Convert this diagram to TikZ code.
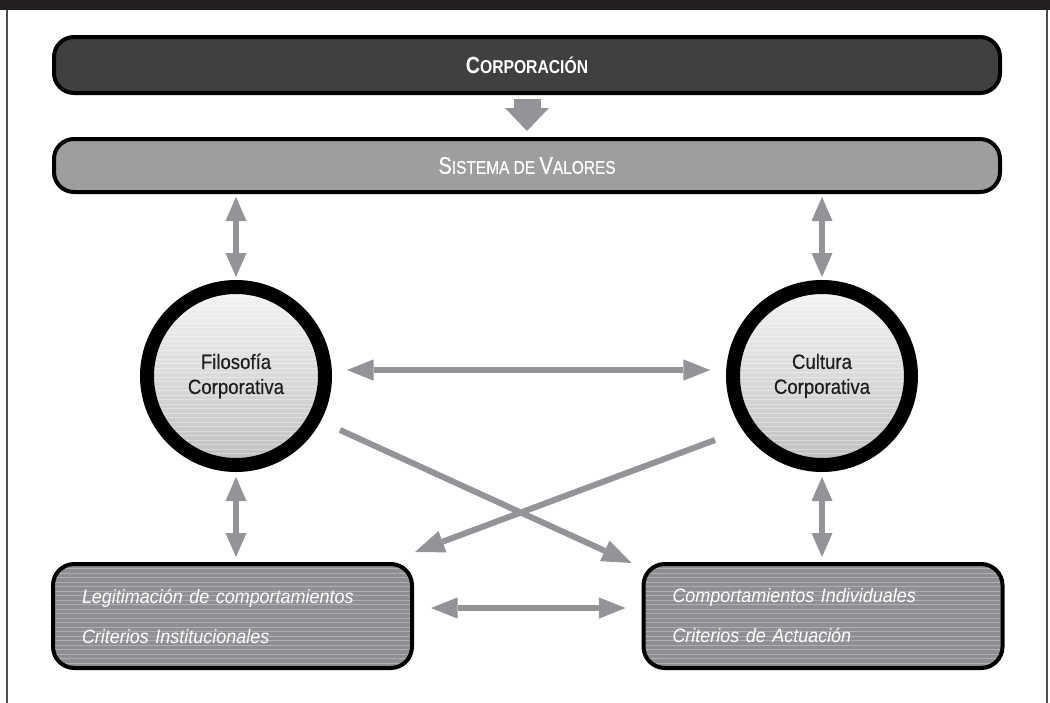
\documentclass[tikz,border=0pt]{standalone}
\usepackage{fontspec}
\setmainfont{Liberation Sans}
\newfontfamily\titlefont{Liberation Sans}[FakeStretch=0.84]
\newfontfamily\titlefontb{Liberation Sans}[FakeStretch=0.84,FakeBold=0.4]
\newfontfamily\circfont{Liberation Sans}[FakeStretch=0.9,FakeBold=0.5]
\newfontfamily\boxfont{Liberation Sans}[FakeStretch=0.93]
\usetikzlibrary{arrows.meta,calc}
\definecolor{agray}{HTML}{939497}
\definecolor{darkbox}{HTML}{3F4042}
\definecolor{midbox}{HTML}{9D9EA0}
\definecolor{lowbox}{HTML}{8E8F92}
\definecolor{ink}{HTML}{1E1E1E}
\definecolor{framec}{HTML}{231F20}
\begin{document}
\begin{tikzpicture}[x=0.75pt,y=-0.75pt,
  every node/.style={outer sep=0pt},
  stripes/.style={path picture={
    \foreach \k in {0,...,45}{
      \draw[white,opacity=#1,line width=0.5pt]
        ($(path picture bounding box.north west)+(0,\k*4.5)$) -- ++(1100,0);}}},
  barbox/.style={draw=black,line width=3pt,rounded corners=15pt,
    minimum width=709.5pt,inner sep=0pt},
  lowerbox/.style={draw=black,line width=3pt,rounded corners=16pt,fill=lowbox,
    minimum height=78pt,text width=225.75pt,inner xsep=21.75pt,inner ysep=0pt,
    align=left,text=white,font=\boxfont\itshape\fontsize{14.5}{30}\selectfont,
    stripes=0.28},
  disc/.style={circle,draw=black,line width=10.5pt,minimum size=133.5pt,inner sep=0pt,
    top color=gray!8,bottom color=gray!50,stripes=0.35,align=center,text=ink,
    font=\circfont\fontsize{15.5}{18.75}\selectfont},
  dbl/.style={agray,line width=4.5pt,
    {Triangle[width=15.75pt,length=18pt,line width=0pt]}-{Triangle[width=15.75pt,length=18pt,line width=0pt]}},
  hdbl/.style={agray,line width=4pt,
    {Triangle[width=16pt,length=20pt,line width=0pt]}-{Triangle[width=16pt,length=20pt,line width=0pt]}},
  single/.style={agray,line width=4.5pt,-{Triangle[width=17pt,length=22pt,line width=0pt]}},
  block/.style={agray,line width=20.25pt,-{Triangle[width=33pt,length=17.25pt,line width=0pt]}}
]
\useasboundingbox (0,0) rectangle (1050,703);
% frame
\fill[framec] (0,0) rectangle (1050,10);
\draw[framec!80,line width=1.5pt] (7,10) -- (7,703);
\draw[framec!80,line width=1.5pt] (1047,10) -- (1047,703);

% top boxes
\node[barbox,fill=darkbox,minimum height=42pt,text=white,
  path picture={
    \draw[white,opacity=0.3,line width=0.6pt] (52,44) -- (1002,60);
    \draw[white,opacity=0.3,line width=0.6pt] (52,70) -- (1002,86);}]
  (corp) at (527,65) {\titlefont\bfseries{\fontsize{17.5}{20}\selectfont C}{\fontsize{14}{20}\selectfont ORPORACIÓN}};
\node[barbox,fill=midbox,minimum height=39.75pt,text=white]
  (sist) at (527,165.5) {\titlefontb{\fontsize{18}{20}\selectfont S}{\fontsize{13.8}{20}\selectfont ISTEMA DE }{\fontsize{18}{20}\selectfont V}{\fontsize{13.8}{20}\selectfont ALORES}};

% circles
\node[disc] (filo) at (236,376) {Filosofía\\Corporativa};
\node[disc] (cult) at (822,376) {Cultura\\Corporativa};

% lower boxes
\node[lowerbox] (legit) at (232.5,616) {Legitimación de comportamientos\\Criterios Institucionales};
\node[lowerbox] (comp) at (823,616) {Comportamientos Individuales\\Criterios de Actuación};

% connectors
\draw[block,shorten <=4.5pt,shorten >=6pt] (corp.south) -- (corp.south |- sist.north);
\draw[dbl,shorten <=3.75pt,shorten >=7.5pt] (filo.north |- sist.south) -- (filo.north);
\draw[dbl,shorten <=3.75pt,shorten >=7.5pt] (cult.north |- sist.south) -- (cult.north);
\draw[dbl,shorten <=9pt,shorten >=5.25pt] (filo.south) -- (filo.south |- legit.north);
\draw[dbl,shorten <=9pt,shorten >=5.25pt] (cult.south) -- (cult.south |- comp.north);
\draw[hdbl,shorten <=16.5pt,shorten >=17.25pt] ($(filo.east)+(0,-6)$) -- ($(cult.west)+(0,-6)$);
\draw[hdbl,shorten <=14.25pt,shorten >=13.5pt] ($(legit.east)+(0,-8)$) -- ($(comp.west)+(0,-8)$);
\draw[single] ($(filo.center)+(104,54)$) -- ($(comp.north west)+(-12,-1)$);
\draw[single] ($(cult.center)+(-107,64)$) -- ($(legit.north east)+(3,-12)$);
\end{tikzpicture}
\end{document}
